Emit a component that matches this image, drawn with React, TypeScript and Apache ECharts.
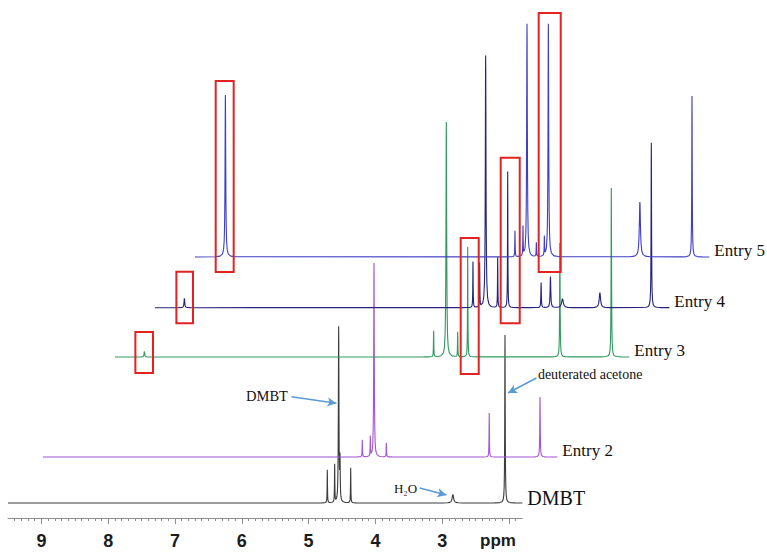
import React, { useEffect, useRef } from 'react';
import * as echarts from 'echarts';

// ---------- data (ppm scale, intensities in arbitrary units) ----------
const PPM_MIN = 1.8;
const PPM_MAX = 9.5;
const TICK_PPM = [2, 3, 4, 5, 6, 7, 8, 9];
const TICK_LABELS = ['ppm', '3', '4', '5', '6', '7', '8', '9'];

const SPECTRUM_NAMES = ['DMBT', 'Entry 2', 'Entry 3', 'Entry 4', 'Entry 5'];

// peaks: [chemical shift (ppm), height, half-width (ppm)]
const DMBT_PEAKS = [
  [4.72, 33, 0.003], [4.61, 38, 0.003], [4.55, 175, 0.005], [4.53, 40, 0.004],
  [4.37, 35, 0.003], [2.84, 9, 0.012], [2.06, 168, 0.004],
];
const ENTRY2_PEAKS = [
  [4.72, 17, 0.003], [4.6, 20, 0.003], [4.545, 194, 0.005], [4.36, 14, 0.003],
  [2.82, 44, 0.003], [2.06, 60, 0.004],
];
const ENTRY3_PEAKS = [
  [9.06, 6, 0.006], [4.73, 26, 0.003], [4.54, 235, 0.006], [4.37, 25, 0.003],
  [4.22, 110, 0.003], [2.84, 114, 0.004], [2.07, 169, 0.004],
];
const ENTRY4_PEAKS = [
  [9.06, 10, 0.006], [4.74, 46, 0.003], [4.64, 44, 0.003], [4.55, 252, 0.006],
  [4.37, 50, 0.003], [4.22, 136, 0.003], [3.72, 25, 0.004], [3.58, 31, 0.006],
  [3.4, 9, 0.015], [2.84, 15, 0.012], [2.07, 165, 0.004],
];
const ENTRY5_PEAKS = [
  [9.045, 162, 0.006], [4.71, 26, 0.003], [4.59, 29, 0.003], [4.53, 233, 0.006],
  [4.39, 14, 0.003], [4.27, 19, 0.003], [4.21, 233, 0.006], [2.84, 55, 0.01],
  [2.06, 161, 0.004],
];
const ALL_PEAKS = [DMBT_PEAKS, ENTRY2_PEAKS, ENTRY3_PEAKS, ENTRY4_PEAKS, ENTRY5_PEAKS];

// highlighted regions [[ppmFrom, top], [ppmTo, bottom]] per spectrum index
const HIGHLIGHTS: Record<number, number[][][]> = {
  2: [[[9.195, 25], [8.931, -16]], [[4.325, 119], [4.055, -17]]],
  3: [[[9.18, 36], [8.931, -15.5]], [[4.325, 150], [4.04, -15.5]]],
  4: [[[9.19, 176], [8.921, -15]], [[4.355, 244], [4.025, -15]]],
};

// ---------- layout / style (not data) ----------
const PX_PER_PPM = 66.8;
const Y_MAX = 255;
const LAYOUT = [
  { dx: 0, baseY: 503, yMin: -15, color: '#3d3d3d', fontSize: 20, labelOffset: -5 },
  { dx: 35, baseY: 457, yMin: -20, color: '#a653d6', fontSize: 17, labelOffset: -6 },
  { dx: 107, baseY: 357, yMin: -20, color: '#2f9b5e', fontSize: 17, labelOffset: -6 },
  { dx: 147, baseY: 307.7, yMin: -20, color: '#24247e', fontSize: 17, labelOffset: -6 },
  { dx: 187, baseY: 257, yMin: -20, color: '#3e3ec6', fontSize: 17, labelOffset: -6 },
];
const SHAPE_OFFSETS = [-0.15, -0.08, -0.045, -0.028, -0.018, -0.012, -0.008, -0.005, -0.003, -0.0015, 0,
  0.0015, 0.003, 0.005, 0.008, 0.012, 0.018, 0.028, 0.045, 0.08, 0.15];

function buildLine(peaks: number[][]): number[][] {
  const xs = new Set<number>([PPM_MAX, PPM_MIN]);
  for (const [p] of peaks) {
    for (const d of SHAPE_OFFSETS) {
      const x = +(p + d).toFixed(5);
      if (x > PPM_MIN && x < PPM_MAX) xs.add(x);
    }
  }
  const sorted = Array.from(xs).sort((a, b) => b - a);
  return sorted.map((x) => [
    x,
    peaks.reduce((s, [p, h, g]) => s + (h * g * g) / ((x - p) * (x - p) + g * g), 0),
  ]);
}

const MINOR_TICKS: number[] = [];
for (let i = 19; i <= 94; i++) if (i % 10 !== 0) MINOR_TICKS.push(i / 10);

const AXIS_COLOR = '#8e8e8e';
const ARROW_COLOR = '#5b9bd5';
const BOX_COLOR = '#e32222';
const SERIF = 'Liberation Serif, Times New Roman, serif';

export default function App() {
  const ref = useRef<HTMLDivElement>(null);
  useEffect(() => {
    if (!ref.current) return;
    const chart = echarts.init(ref.current, null, { renderer: 'svg' });
    const width = (PPM_MAX - PPM_MIN) * PX_PER_PPM;

    const grid = LAYOUT.map((l) => ({
      left: 8 + l.dx,
      width,
      top: l.baseY - Y_MAX,
      height: Y_MAX - l.yMin,
      containLabel: false,
      outerBoundsMode: 'none',
    }));

    const xAxis: any[] = [
      {
        gridIndex: 0, type: 'value', inverse: true, min: PPM_MIN, max: PPM_MAX, position: 'bottom',
        axisLine: { show: true, onZero: false, lineStyle: { color: AXIS_COLOR, width: 1 } },
        axisTick: { show: true, customValues: TICK_PPM, length: 6, lineStyle: { color: AXIS_COLOR } },
        axisLabel: {
          show: true, customValues: TICK_PPM, margin: 14,
          formatter: (v: number) => {
            const t = TICK_LABELS[TICK_PPM.indexOf(Math.round(v))] ?? '';
            return t === 'ppm' ? '{p|ppm}' : t;
          },
          fontFamily: 'Liberation Sans, Arial, sans-serif', fontWeight: 'bold', fontSize: 18, color: '#1c1c1c',
          rich: { p: { fontFamily: 'Liberation Sans, Arial, sans-serif', fontWeight: 'bold', fontSize: 17, color: '#1c1c1c', padding: [0, 22, 0, 0] } },
        },
        splitLine: { show: false },
      },
      {
        gridIndex: 0, type: 'value', inverse: true, min: PPM_MIN, max: PPM_MAX, position: 'bottom',
        axisLine: { show: false, onZero: false },
        axisTick: { show: true, customValues: MINOR_TICKS, length: 3, lineStyle: { color: AXIS_COLOR } },
        axisLabel: { show: false },
        splitLine: { show: false },
      },
    ];
    for (let i = 1; i < LAYOUT.length; i++) {
      xAxis.push({ gridIndex: i, type: 'value', inverse: true, min: PPM_MIN, max: PPM_MAX, show: false });
    }
    const yAxis = LAYOUT.map((l, i) => ({
      gridIndex: i, type: 'value', min: l.yMin, max: Y_MAX, show: false,
    }));

    const series: any[] = ALL_PEAKS.map((peaks, i) => {
      const l = LAYOUT[i];
      const s: any = {
        type: 'line',
        name: SPECTRUM_NAMES[i],
        xAxisIndex: i === 0 ? 0 : i + 1,
        yAxisIndex: i,
        data: buildLine(peaks),
        showSymbol: false,
        symbol: 'none',
        clip: false,
        silent: true,
        lineStyle: { color: l.color, width: 1.1 },
        itemStyle: { color: l.color },
        endLabel: {
          show: true,
          formatter: SPECTRUM_NAMES[i],
          align: 'left',
          verticalAlign: 'middle',
          distance: 0,
          offset: [5, l.labelOffset],
          fontFamily: SERIF,
          fontSize: l.fontSize,
          color: '#111',
        },
      };
      if (HIGHLIGHTS[i]) {
        s.markArea = {
          silent: true,
          z: 10,
          itemStyle: { color: 'rgba(0,0,0,0)', borderColor: BOX_COLOR, borderWidth: 2 },
          label: { show: false },
          data: HIGHLIGHTS[i].map(([a, b]) => [{ coord: a }, { coord: b }]),
        };
      }
      return s;
    });

    // annotations on the DMBT spectrum
    series[0].markPoint = {
      silent: true,
      symbol: 'circle',
      symbolSize: 1,
      itemStyle: { color: 'rgba(0,0,0,0)' },
      label: { show: true, color: '#111', fontFamily: SERIF },
      data: [
        { coord: [5.257, 107], label: { formatter: 'DMBT', position: 'left', distance: 3, fontSize: 14.5 } },
        { coord: [3.337, 15], label: { formatter: 'H₂O', position: 'left', distance: 2, fontSize: 13 } },
      ],
    };
    series[0].markLine = {
      silent: true,
      symbol: ['none', 'arrow'],
      symbolSize: [7, 9],
      lineStyle: { type: 'solid', color: ARROW_COLOR, width: 1.6 },
      label: { show: false },
      data: [
        [{ coord: [5.257, 106.3] }, { coord: [4.584, 99.7] }],
        [{ coord: [3.337, 15] }, { coord: [2.937, 8] }],
      ],
    };
    // deuterated acetone annotation (placed in Entry 2 frame)
    series[1].markPoint = {
      silent: true,
      symbol: 'circle',
      symbolSize: 1,
      itemStyle: { color: 'rgba(0,0,0,0)' },
      label: { show: true, color: '#111', fontFamily: SERIF },
      data: [
        { coord: [2.114, 83], label: { formatter: 'deuterated acetone', position: 'right', distance: 1, fontSize: 14 } },
      ],
    };
    series[1].markLine = {
      silent: true,
      symbol: ['none', 'arrow'],
      symbolSize: [7, 9],
      lineStyle: { type: 'solid', color: ARROW_COLOR, width: 1.6 },
      label: { show: false },
      data: [[{ coord: [2.114, 79] }, { coord: [2.539, 64] }]],
    };

    chart.setOption({
      animation: false,
      backgroundColor: '#ffffff',
      grid,
      xAxis,
      yAxis,
      series,
    });
    return () => chart.dispose();
  }, []);

  return (
    <div
      ref={ref}
      style={{ position: 'fixed', left: 0, top: 0, width: 767, height: 553, background: '#fff' }}
    />
  );
}
